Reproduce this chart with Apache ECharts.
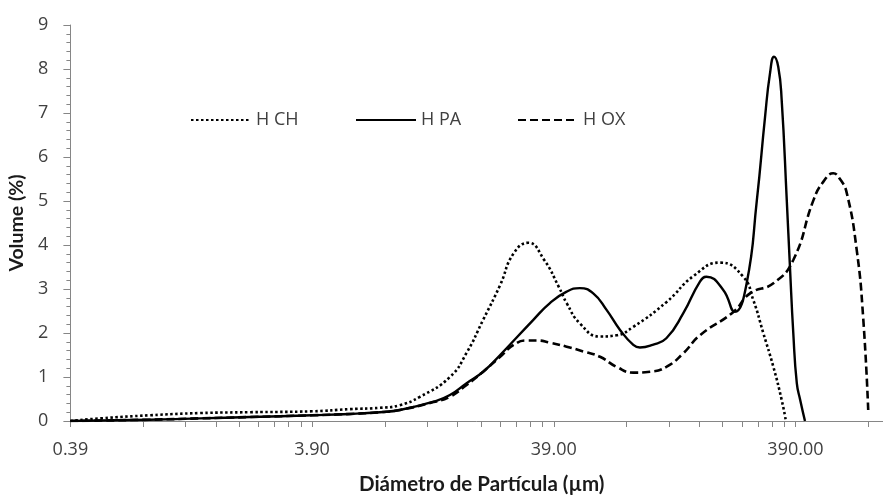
<!DOCTYPE html>
<html>
<head>
<meta charset="utf-8">
<script src="https://cdn.jsdelivr.net/npm/echarts@6/dist/echarts.min.js"></script>
<style>
  html, body { margin: 0; padding: 0; background: #fff; }
  #chart { width: 883px; height: 495px; }
</style>
</head>
<body>
<div id="chart"></div>
<script>
// Particle size distributions (diameter in µm, volume in %)
const chDiameter = [0.39, 0.52, 0.83, 1.34, 2.16, 3.9, 5.6, 7.45, 9.0, 10.9, 14.5, 17, 19.9, 23.4, 26.6, 30.6, 35.6, 40.9, 44.1, 50, 60.6, 71, 83.2, 114, 148, 190, 237, 261, 287, 316, 342, 356];
const chVolume   = [0, 0.06, 0.13, 0.18, 0.2, 0.22, 0.27, 0.3, 0.36, 0.55, 1.0, 1.55, 2.3, 3.09, 3.81, 4.05, 3.66, 3.05, 2.68, 2.22, 1.92, 1.95, 2.14, 2.7, 3.3, 3.6, 3.28, 2.75, 2.0, 1.23, 0.48, 0];

const paDiameter = [0.39, 0.83, 1.34, 2.16, 3.9, 5.6, 7.45, 9.0, 12.4, 14.5, 17, 19.9, 23.4, 32.1, 37.6, 44.1, 50, 56.8, 64.6, 73.3, 83.2, 88.6, 100, 114, 134, 157, 167, 196, 219, 245, 270, 292, 306, 318, 331, 342, 359, 370, 382, 395, 408, 427];
const paVolume   = [0, 0.03, 0.06, 0.09, 0.13, 0.16, 0.2, 0.25, 0.44, 0.59, 0.86, 1.12, 1.5, 2.30, 2.68, 2.94, 3.02, 2.90, 2.52, 2.07, 1.73, 1.67, 1.73, 1.88, 2.45, 3.17, 3.28, 2.98, 2.48, 3.13, 5.02, 6.92, 7.9, 8.28, 8.05, 7.30, 5.02, 3.51, 2.0, 0.86, 0.48, 0];

const oxDiameter = [0.39, 0.83, 1.34, 2.16, 3.9, 5.6, 7.45, 9.0, 12.4, 14.5, 17, 19.9, 23.4, 26.6, 30.1, 33.2, 37.6, 44.1, 51.7, 60.6, 71, 83.2, 97.5, 114, 134, 157, 216, 253, 316, 382, 463, 509, 559, 596, 636, 699, 743, 780];
const oxVolume   = [0, 0.03, 0.06, 0.09, 0.13, 0.16, 0.2, 0.25, 0.43, 0.55, 0.82, 1.12, 1.46, 1.73, 1.83, 1.83, 1.78, 1.69, 1.58, 1.46, 1.23, 1.10, 1.12, 1.23, 1.54, 1.95, 2.48, 2.90, 3.13, 3.66, 5.02, 5.44, 5.63, 5.5, 5.18, 3.89, 2.37, 0.25];

const seriesNames = ['H CH', 'H PA', 'H OX'];

// Axis settings: the diameter axis runs in decades starting at 0.39 µm
const xLabelValues = [0.39, 3.9, 39, 390];
const xStart = 0.39;
const xEnd = 898;
const yMax = 9;

const log10 = v => Math.log10(v);
const toPoints = (ds, vs) => ds.map((d, i) => [log10(d), vs[i]]);

// tick marks at 1..9 × each decade
const xTickValues = [];
xLabelValues.forEach(base => {
  for (let k = 1; k <= 9; k++) {
    const v = base * k;
    if (v <= xEnd) xTickValues.push(log10(v));
  }
});

const axisGrey = '#868686';
const labelColor = '#404040';
const sans = '"Open Sans", "Noto Sans", sans-serif';
const titleFont = 'Lato, "Open Sans", sans-serif';

const chart = echarts.init(document.getElementById('chart'), null, { renderer: 'canvas' });

const legendBase = {
  orient: 'horizontal',
  top: 111,
  padding: 0,
  itemWidth: 60,
  itemHeight: 14,
  // only the line sample is shown, no marker in the middle
  itemStyle: { color: 'transparent', borderColor: 'transparent', borderWidth: 0, opacity: 0 },
  textStyle: { fontFamily: sans, fontSize: 18, color: labelColor },
  selectedMode: false
};

chart.setOption({
  backgroundColor: '#ffffff',
  animation: false,
  grid: { left: 70.4, right: 0, top: 25, bottom: 74, containLabel: false, outerBoundsMode: 'none' },
  legend: [
    Object.assign({}, legendBase, { left: 190, data: [seriesNames[0]] }),
    Object.assign({}, legendBase, { left: 355, data: [seriesNames[1]] }),
    Object.assign({}, legendBase, { left: 517, data: [seriesNames[2]] })
  ],
  xAxis: {
    type: 'value',
    min: log10(xStart),
    max: log10(xEnd),
    name: 'Diámetro de Partícula (µm)',
    nameLocation: 'middle',
    nameGap: 53,
    nameTextStyle: { fontFamily: titleFont, fontWeight: 'bold', fontSize: 20.5, color: '#1a1a1a', padding: [0, 0, 0, 10] },
    axisLine: { show: true, onZero: false, lineStyle: { color: axisGrey, width: 1 } },
    axisTick: { show: true, length: 6, lineStyle: { color: axisGrey }, customValues: xTickValues },
    axisLabel: {
      customValues: xLabelValues.map(log10),
      formatter: v => Math.pow(10, v).toFixed(2),
      fontFamily: sans, fontSize: 18, color: labelColor, margin: 20
    },
    splitLine: { show: false }
  },
  yAxis: {
    type: 'value',
    min: 0,
    max: yMax,
    interval: 1,
    name: 'Volume (%)',
    nameLocation: 'middle',
    nameGap: 38,
    nameTextStyle: { fontFamily: titleFont, fontWeight: 'bold', fontSize: 19.5, color: '#1a1a1a' },
    axisLine: { show: true, onZero: false, lineStyle: { color: axisGrey, width: 1 } },
    axisTick: { show: true, length: 7, lineStyle: { color: axisGrey } },
    minorTick: { show: true, splitNumber: 5, length: 4, lineStyle: { color: axisGrey } },
    axisLabel: { fontFamily: sans, fontSize: 18, color: labelColor, margin: 22 },
    splitLine: { show: false },
    minorSplitLine: { show: false }
  },
  series: [
    {
      name: seriesNames[0], type: 'line', smooth: true, symbol: 'none',
      data: toPoints(chDiameter, chVolume),
      lineStyle: { color: '#000', width: 2.6, type: [2.5, 2.5], cap: 'butt' },
      itemStyle: { color: '#000' }
    },
    {
      name: seriesNames[1], type: 'line', smooth: true, symbol: 'none',
      data: toPoints(paDiameter, paVolume),
      lineStyle: { color: '#000', width: 2.4, type: 'solid' },
      itemStyle: { color: '#000' }
    },
    {
      name: seriesNames[2], type: 'line', smooth: true, symbol: 'none',
      data: toPoints(oxDiameter, oxVolume),
      lineStyle: { color: '#000', width: 2.6, type: [8, 4], cap: 'butt' },
      itemStyle: { color: '#000' }
    }
  ]
});
</script>
</body>
</html>
